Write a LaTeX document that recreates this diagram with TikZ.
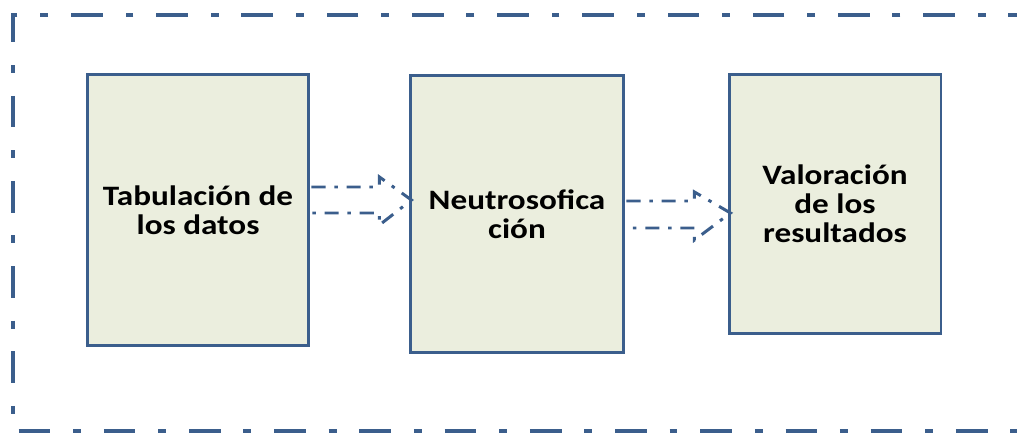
\documentclass[tikz,border=0pt]{standalone}
\usepackage{fontspec}
\setmainfont{Carlito}
\newfontfamily\cajafont{Carlito}[FakeStretch=1.18]
\usepackage{xcolor}
\definecolor{azul}{HTML}{3B5E8C}
\definecolor{crema}{HTML}{EBEEDE}
\tikzstyle{flecha} = [line width=1.7pt,draw=azul,dash pattern=on 8pt off 5pt on 2pt off 5pt,line join=miter]

\begin{document}
\begin{tikzpicture}
        [
            x=0.02cm,y=-0.02cm,
            caja/.style={rectangle,draw=azul,fill=crema,line width=1.7pt,align=center,
                font=\cajafont\fontsize{16}{16.5}\selectfont\bfseries},
        ]
    \useasboundingbox (0,0) rectangle (1017,436);
    \begin{scope}
        \clip (0,0) rectangle (1017,436);
        \draw[azul,line width=2.8pt,dash pattern=on 18pt off 13pt on 4.5pt off 13pt]
            (1040,15) -- (13,15) -- (13,431) -- (1040,431);
    \end{scope}

    \node[caja,minimum width=4.44cm,minimum height=5.42cm] (tab) at (198,210) {Tabulación de\\los datos};
    \node[caja,minimum width=4.28cm,minimum height=5.56cm] (neu) at (517,214) {Neutrosofica\\ción};
    \node[caja,minimum width=4.24cm,minimum height=5.18cm] (val) at (835,204) {Valoración\\de los\\resultados};

    % flechas
    \draw[flecha] ([shift={(1,-23)}]tab.east) -- ([shift={(69,-23)}]tab.east) -- ([shift={(69,-33)}]tab.east)
        -- ([shift={(101,-10)}]tab.east) -- ([shift={(69,15)}]tab.east) -- ([shift={(69,3)}]tab.east)
        -- ([shift={(1,3)}]tab.east);
    \draw[flecha] ([shift={(1,-13)}]neu.east) -- ([shift={(69,-13)}]neu.east) -- ([shift={(69,-22)}]neu.east)
        -- ([shift={(105,-1)}]neu.east) -- ([shift={(69,26)}]neu.east) -- ([shift={(69,14)}]neu.east)
        -- ([shift={(1,14)}]neu.east);
\end{tikzpicture}
\end{document}
